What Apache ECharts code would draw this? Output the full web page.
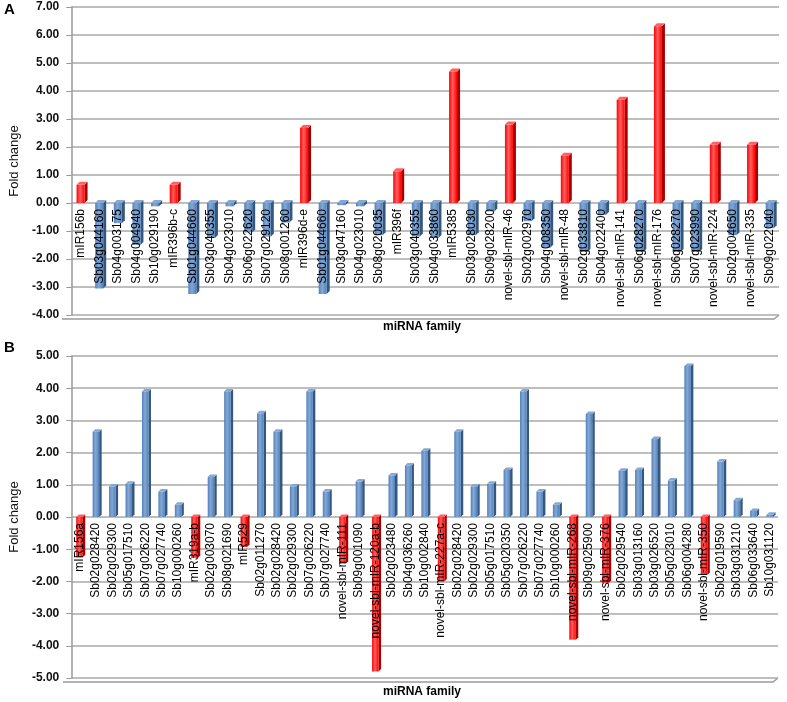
<!DOCTYPE html>
<html>
<head>
<meta charset="utf-8">
<script src="https://cdn.jsdelivr.net/npm/echarts@6/dist/echarts.min.js"></script>
<style>
html,body{margin:0;padding:0;background:#fff;}
#chart{width:787px;height:702px;}
</style>
</head>
<body>
<div id="chart"></div>
<script>
// ---------- Panel A data ----------
const categoriesA = [
  'mIR156b','Sb03g044160','Sb04g003175','Sb04g004940','Sb10g029190','mIR396b-c',
  'Sb01g044660','Sb03g040355','Sb04g023010','Sb06g022620','Sb07g029120','Sb08g001260',
  'mIR396d-e','Sb01g044660','Sb03g047160','Sb04g023010','Sb08g020035','mIR396f',
  'Sb03g040355','Sb04g033860','mIR5385','Sb03g028030','Sb09g028200','novel-sbl-mIR-46',
  'Sb02g002970','Sb04g008350','novel-sbl-mIR-48','Sb02g033810','Sb04g022400','novel-sbl-mIR-141',
  'Sb06g028270','novel-sbl-mIR-176','Sb06g028270','Sb07g023990','novel-sbl-mIR-224','Sb02g004650',
  'novel-sbl-mIR-335','Sb09g022040'
];
const valuesA = [
  0.65,-3.05,-0.72,-1.5,-0.12,0.65,
  -3.25,-1.25,-0.12,-1.05,-1.2,-0.7,
  2.68,-3.25,-0.08,-0.12,-1.15,1.13,
  -1.2,-1.25,4.70,-1.15,-0.3,2.8,
  -0.65,-1.6,1.69,-1.75,-0.42,3.69,
  -1.75,6.31,-1.75,-1.75,2.08,-1.15,
  2.08,-0.9
];
const yTicksA = {min:-4, max:7, interval:1};

// ---------- Panel B data ----------
const categoriesB = [
  'mIR156a','Sb02g028420','Sb02g029300','Sb05g017510','Sb07g026220','Sb07g027740','Sb10g000260',
  'mIR319a-b','Sb02g003070','Sb08g021690','mIR529','Sb02g011270','Sb02g028420','Sb02g029300',
  'Sb07g026220','Sb07g027740','novel-sbl-mIR-111','Sb09g001090','novel-sbl-mIR-120a-b','Sb02g023480',
  'Sb04g036260','Sb10g002840','novel-sbl-mIR-227a-c','Sb02g028420','Sb02g029300','Sb05g017510',
  'Sb05g020350','Sb07g026220','Sb07g027740','Sb10g000260','novel-sbl-mIR-268','Sb09g025900',
  'novel-sbl-mIR-376','Sb02g029540','Sb03g013160','Sb03g026520','Sb05g023010','Sb06g004280',
  'novel-sbl-mIR-350','Sb02g019590','Sb03g031210','Sb06g033640','Sb10g031120'
];
const valuesB = [
  -1.25,2.65,0.95,1.03,3.9,0.79,0.38,
  -1.27,1.24,3.9,-0.93,3.22,2.65,0.95,
  3.9,0.79,-1.45,1.1,-4.8,1.29,
  1.6,2.06,-2.0,2.65,0.95,1.03,
  1.46,3.9,0.79,0.38,-3.81,3.2,
  -2.05,1.44,1.46,2.42,1.13,4.69,
  -1.8,1.72,0.52,0.19,0.07
];
const yTicksB = {min:-5, max:5, interval:1};

const isMirna = name => /^(mIR|novel)/.test(name);
const COLORS = {
  red:  {front:'#FF0000', side:'#A80000', top:'#FF6060'},
  blue: {front:'#4F81BD', side:'#34577F', top:'#86A8D3'}
};

function make3DRender(cats, w, d){
  return function(params, api){
    const idx = api.value(0), v = api.value(1);
    const p0 = api.coord([idx, 0]);
    const p1 = api.coord([idx, v]);
    const c = isMirna(cats[idx]) ? COLORS.red : COLORS.blue;
    const xl = p0[0] - w/2, xr = p0[0] + w/2;
    const top = Math.min(p0[1], p1[1]), bot = Math.max(p0[1], p1[1]);
    return {
      type:'group',
      children:[
        {type:'polygon', shape:{points:[[xr,top],[xr+d,top-d],[xr+d,bot-d],[xr,bot]]}, style:{fill:c.side}},
        {type:'polygon', shape:{points:[[xl,top],[xl+d,top-d],[xr+d,top-d],[xr,top]]}, style:{fill:c.top}},
        {type:'rect', shape:{x:xl, y:top, width:w, height:Math.max(bot-top,0.5)},
          style:{fill:{type:'linear',x:0,y:0,x2:1,y2:0,colorStops:[{offset:0,color:c.front},{offset:0.45,color:c.top},{offset:1,color:c.front}]}}}
      ]
    };
  };
}

const FONT = 'Liberation Sans, Arial, sans-serif';
const GRID_A = {left:66, right:8, top:7, height:308};
const GRID_B = {left:67, right:9, top:356, height:322};
// distance from grid bottom up to the zero line
const zeroOffset = (g, t) => -g.height * (0 - t.min) / (t.max - t.min);

function yAxisCfg(gridIndex, t){
  return {
    type:'value', gridIndex, min:t.min, max:t.max, interval:t.interval,
    name:'Fold change', nameLocation:'middle', nameGap:40,
    nameTextStyle:{fontSize:13, color:'#111', fontFamily:FONT},
    axisLine:{show:true, lineStyle:{color:'#9a9a9a', width:1.5}},
    axisTick:{show:true, length:5, lineStyle:{color:'#9a9a9a'}},
    axisLabel:{formatter:v=>v.toFixed(2), fontSize:12, fontWeight:'bold', color:'#111', fontFamily:FONT, margin:12, padding:[6,0,0,0]},
    splitLine:{show:true, lineStyle:{color:'#a9a9a9', width:1.5}}
  };
}
function xAxisCfg(gridIndex, cats, off){
  return {
    type:'category', gridIndex, data:cats, z:10, position:'bottom', offset:off,
    axisLine:{show:false, onZero:false}, axisTick:{show:false},
    axisLabel:{interval:0, rotate:90, fontSize:12, color:'#000', fontFamily:FONT, margin:6},
    splitLine:{show:false}
  };
}

const chart = echarts.init(document.getElementById('chart'), null, {renderer:'canvas'});
chart.setOption({
  animation:false,
  backgroundColor:'#fff',
  grid:[GRID_A, GRID_B],
  xAxis:[xAxisCfg(0, categoriesA, zeroOffset(GRID_A, yTicksA)), xAxisCfg(1, categoriesB, zeroOffset(GRID_B, yTicksB))],
  yAxis:[yAxisCfg(0, yTicksA), yAxisCfg(1, yTicksB)],
  series:[
    {type:'custom', xAxisIndex:0, yAxisIndex:0, renderItem:make3DRender(categoriesA, 8, 3),
      data:valuesA.map((v,i)=>[i,v]), encode:{x:0,y:1}, z:2},
    {type:'custom', xAxisIndex:1, yAxisIndex:1, renderItem:make3DRender(categoriesB, 6.5, 2.5),
      data:valuesB.map((v,i)=>[i,v]), encode:{x:0,y:1}, z:2}
  ],
  graphic:[
    {type:'text', left:4, top:2, style:{text:'A', font:'bold 15px '+FONT, fill:'#000'}},
    {type:'text', left:4, top:340, style:{text:'B', font:'bold 15px '+FONT, fill:'#000'}},
    {type:'text', left:383, top:321, style:{text:'miRNA family', font:'bold 12px '+FONT, fill:'#000'}},
    {type:'text', left:383, top:686, style:{text:'miRNA family', font:'bold 12px '+FONT, fill:'#000'}},
    {type:'polyline', shape:{points:[[62,319],[774,319],[779,315]]}, style:{stroke:'#9a9a9a', lineWidth:1.5, fill:null}},
    {type:'polyline', shape:{points:[[63,682],[773,682],[778,678]]}, style:{stroke:'#9a9a9a', lineWidth:1.5, fill:null}}
  ]
});
</script>
</body>
</html>
